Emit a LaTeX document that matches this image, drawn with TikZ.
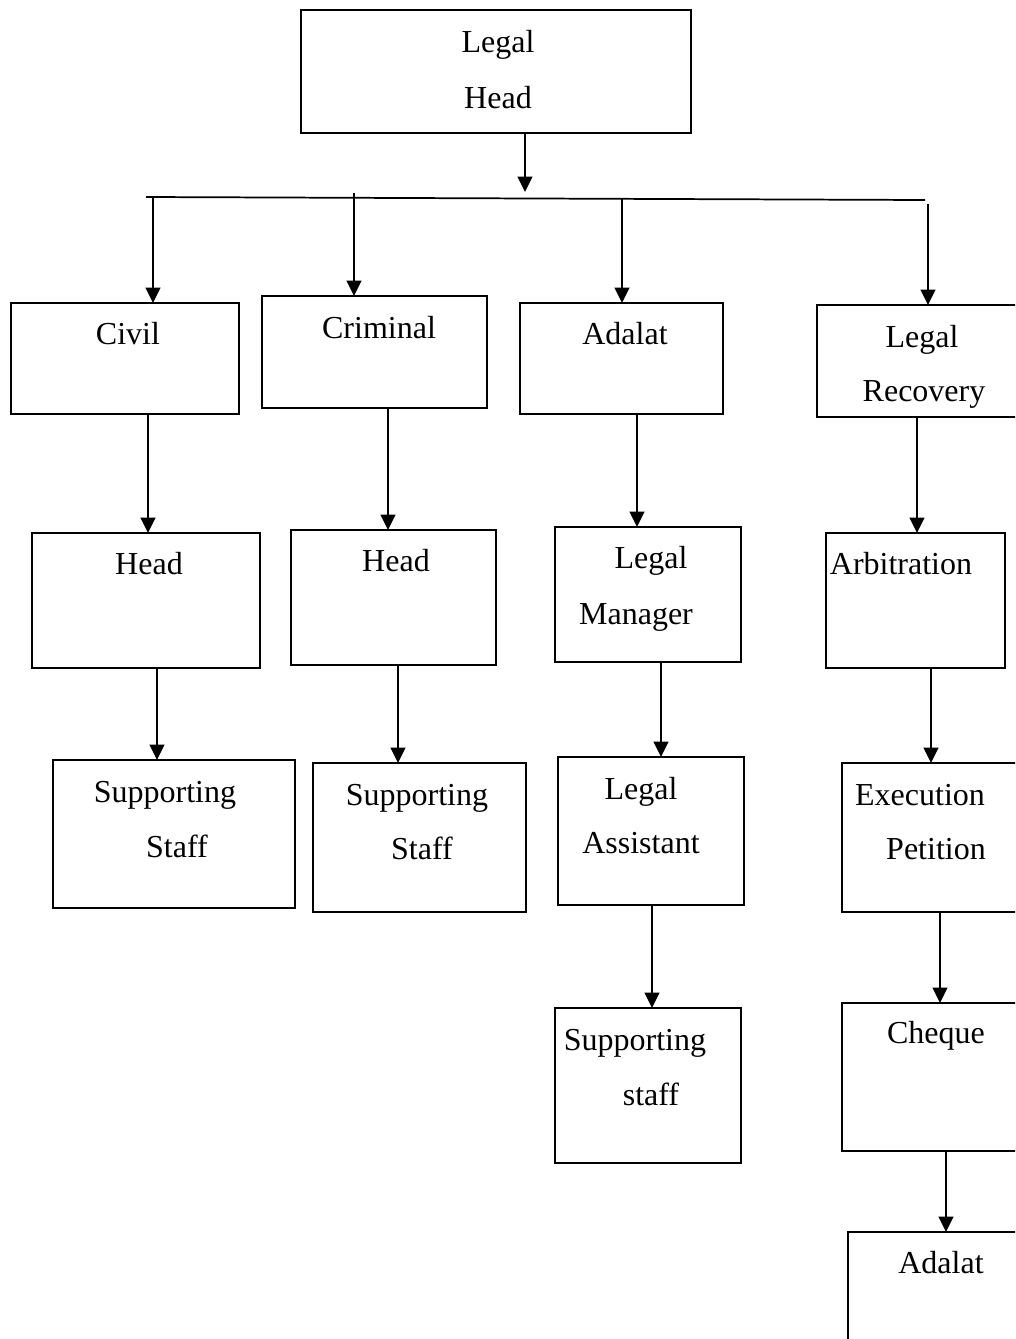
\documentclass[tikz,border=0pt]{standalone}
\usepackage{fontspec}
\setmainfont{Liberation Serif}
\usetikzlibrary{arrows.meta}

% rectangle node given by its corners: name, x1, y1, x2, y2 (pixel grid)
\newcommand\orgbox[5]{%
  \node[box, minimum width={(#4-#2)*0.75pt}, minimum height={(#5-#3)*0.75pt}]
    (#1) at ({(#2+#4)/2},{(#3+#5)/2}) {};}

\begin{document}
\begin{tikzpicture}[x=0.75pt, y=-0.75pt,
  box/.style={draw, line width=1.2pt, inner sep=0pt, outer sep=0pt},
  lbl/.style={anchor=base, inner sep=0pt, font=\fontsize{24}{28}\selectfont},
  arr/.style={line width=1.3pt, -{Triangle[length=11.5pt,width=11pt]}},
  link/.style={line width=1.3pt}]
\useasboundingbox (0,0) rectangle (1015,1339);
\clip (0,0) rectangle (1015,1339);

% boxes
\orgbox{lhead}{301}{10}{691}{133}
\orgbox{civil}{11}{303}{239}{414}
\orgbox{crim}{262}{296}{487}{408}
\orgbox{adal}{520}{303}{723}{414}
\orgbox{lrec}{817}{305}{1040}{417}
\orgbox{chead}{32}{533}{260}{668}
\orgbox{khead}{291}{530}{496}{665}
\orgbox{lman}{555}{527}{741}{662}
\orgbox{arb}{826}{533}{1005}{668}
\orgbox{cstaff}{53}{760}{295}{908}
\orgbox{kstaff}{313}{763}{526}{912}
\orgbox{lasst}{558}{757}{744}{905}
\orgbox{exec}{842}{763}{1040}{912}
\orgbox{astaff}{555}{1008}{741}{1163}
\orgbox{cheq}{842}{1003}{1040}{1151}
\orgbox{radal}{848}{1232}{1040}{1380}

% labels
\node[lbl] (t1) at (498,52) {Legal};
\node[lbl] (t2) at (498,108) {Head};
\node[lbl] (t3) at (128,344) {Civil};
\node[lbl] (t4) at (379,338) {Criminal};
\node[lbl] (t5) at (625,344) {Adalat};
\node[lbl] (t6) at (922,347) {Legal};
\node[lbl] (t7) at (924,401) {Recovery};
\node[lbl] (t8) at (149,574) {Head};
\node[lbl] (t9) at (396,571) {Head};
\node[lbl] (t10) at (651,568) {Legal};
\node[lbl] (t11) at (636,624) {Manager};
\node[lbl] (t12) at (901,574) {Arbitration};
\node[lbl] (t13) at (165,802) {Supporting};
\node[lbl] (t14) at (177,857) {Staff};
\node[lbl] (t15) at (417,805) {Supporting};
\node[lbl] (t16) at (422,859) {Staff};
\node[lbl] (t17) at (641,799) {Legal};
\node[lbl] (t18) at (641,853) {Assistant};
\node[lbl] (t19) at (920,805) {Execution};
\node[lbl] (t20) at (936,859) {Petition};
\node[lbl] (t21) at (635,1050) {Supporting};
\node[lbl] (t22) at (651,1105) {staff};
\node[lbl] (t23) at (936,1043) {Cheque};
\node[lbl] (t24) at (941,1273) {Adalat};

% distribution bar below the head
\coordinate (hub) at (525,192);
\coordinate (barL) at (146,197);
\coordinate (barR) at (925,200);
\draw[arr] (lhead.south -| 525,0) -- (hub);
\draw[link] (barL) -- (barR);
\draw[arr] (153,197) -- (civil.north -| 153,0);
\draw[arr] (354,193) -- (crim.north -| 354,0);
\draw[arr] (622,199) -- (adal.north -| 622,0);
\draw[arr] (928,204) -- (lrec.north -| 928,0);

% column connectors
\draw[arr] (civil.south -| 148,0) -- (chead.north -| 148,0);
\draw[arr] (chead.south -| 157,0) -- (cstaff.north -| 157,0);
\draw[arr] (crim.south -| 388,0) -- (khead.north -| 388,0);
\draw[arr] (khead.south -| 398,0) -- (kstaff.north -| 398,0);
\draw[arr] (adal.south -| 637,0) -- (lman.north -| 637,0);
\draw[arr] (lman.south -| 661,0) -- (lasst.north -| 661,0);
\draw[arr] (lasst.south -| 652,0) -- (astaff.north -| 652,0);
\draw[arr] (lrec.south -| 917,0) -- (arb.north -| 917,0);
\draw[arr] (arb.south -| 931,0) -- (exec.north -| 931,0);
\draw[arr] (exec.south -| 940,0) -- (cheq.north -| 940,0);
\draw[arr] (cheq.south -| 946,0) -- (radal.north -| 946,0);
\end{tikzpicture}
\end{document}
